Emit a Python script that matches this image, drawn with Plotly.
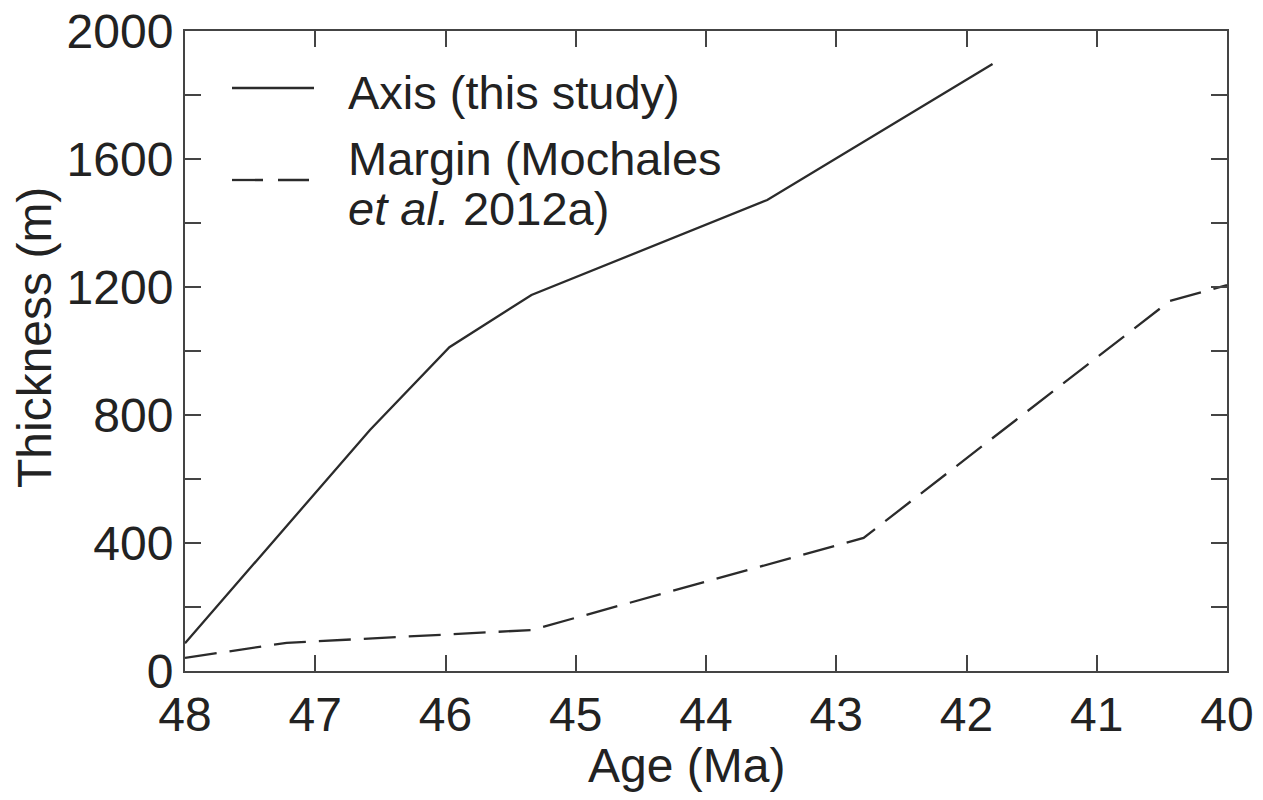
import plotly.graph_objects as go

# Data
axis_age = [48.0, 46.58, 45.97, 45.34, 43.53, 41.8]
axis_thickness = [87, 753, 1012, 1175, 1472, 1897]

margin_age = [48.0, 47.22, 45.34, 42.79, 40.44, 40.0]
margin_thickness = [41, 88, 128, 416, 1156, 1206]

x_ticks = [48, 47, 46, 45, 44, 43, 42, 41, 40]
y_ticks = list(range(0, 2001, 200))
y_ticktext = [str(v) if v % 400 == 0 else "" for v in y_ticks]

LINE = "#2b2b2b"
AXC = "#444444"
TXT = "#222222"
FONT = "Liberation Sans, Arial, sans-serif"

fig = go.Figure()
fig.add_trace(go.Scatter(x=axis_age, y=axis_thickness, mode="lines",
                         name="Axis (this study)",
                         line=dict(color=LINE, width=2.3), showlegend=False))
fig.add_trace(go.Scatter(x=margin_age, y=margin_thickness, mode="lines",
                         name="Margin (Mochales et al. 2012a)",
                         line=dict(color=LINE, width=2.3, dash="32px,13px"),
                         showlegend=False))

# page has an 8px body margin; work in screen pixels
OFF = 8
W, H = 1255, 792
PL, PR, PT, PB = 185, 1227, 31, 671  # plot box in screen pixels
L, T = PL - OFF, PT - OFF
R, B = W - (PR - OFF), H - (PB - OFF)
pw, ph = PR - PL, PB - PT


def px(xp):
    return (xp - PL) / pw


def py(yp):
    return (PB - yp) / ph


# manual legend
fig.add_shape(type="line", xref="paper", yref="paper",
              x0=px(232), x1=px(314), y0=py(88), y1=py(88),
              line=dict(color=LINE, width=2.3))
fig.add_shape(type="line", xref="paper", yref="paper",
              x0=px(232), x1=px(314), y0=py(180), y1=py(180),
              line=dict(color=LINE, width=2.3, dash="31px,15px"))

ann_common = dict(xref="paper", yref="paper", showarrow=False,
                  xanchor="left", yanchor="middle",
                  font=dict(family=FONT, size=47, color=TXT))
fig.add_annotation(text="Axis (this study)", x=px(346), y=py(92), **ann_common)
fig.add_annotation(text="Margin (Mochales", x=px(346), y=py(158), **ann_common)
fig.add_annotation(text="<i>et al.</i> 2012a)", x=px(346), y=py(208), **ann_common)

# axis titles
fig.add_annotation(text="Age (Ma)", x=px(686), y=py(765), xref="paper", yref="paper",
                   showarrow=False, xanchor="center", yanchor="middle",
                   font=dict(family=FONT, size=48, color=TXT))
fig.add_annotation(text="Thickness (m)", x=px(34), y=py(338), xref="paper", yref="paper",
                   showarrow=False, xanchor="center", yanchor="middle", textangle=-90,
                   font=dict(family=FONT, size=48, color=TXT))

fig.update_layout(
    width=W, height=H, autosize=False,
    margin=dict(l=L, r=R, t=T, b=B, pad=0),
    plot_bgcolor="white", paper_bgcolor="white",
    font=dict(family=FONT, size=48, color=TXT),
    xaxis=dict(range=[48, 40], tickvals=x_ticks, ticktext=[str(v) for v in x_ticks],
               ticks="inside", ticklen=16, tickwidth=2, tickcolor=AXC,
               showline=True, linecolor=AXC, linewidth=2, mirror="ticks",
               showgrid=False, zeroline=False, automargin=False,
               ticklabelstandoff=0, ticklabeloverflow="allow",
               tickfont=dict(family=FONT, size=48, color=TXT)),
    yaxis=dict(range=[0, 2000], tickvals=y_ticks, ticktext=y_ticktext,
               ticks="inside", ticklen=16, tickwidth=2, tickcolor=AXC,
               showline=True, linecolor=AXC, linewidth=2, mirror="ticks",
               showgrid=False, zeroline=False, automargin=False,
               ticklabelstandoff=0, ticklabeloverflow="allow",
               tickfont=dict(family=FONT, size=48, color=TXT)),
)

fig.write_html("out.html")
